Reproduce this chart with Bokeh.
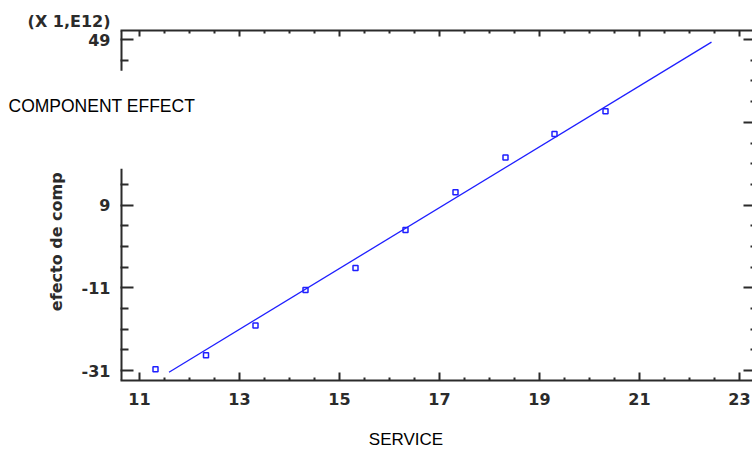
from bokeh.plotting import figure
from bokeh.models import (LinearAxis, FixedTicker, Range1d, Label, CustomJSTickFormatter)
from bokeh.embed import file_html
from bokeh.resources import INLINE

# ---- data ----
service = [11.32, 12.33, 13.32, 14.32, 15.32, 16.32, 17.32, 18.32, 19.30, 20.32]
effect = [-30.7, -27.3, -20.1, -11.5, -6.2, 3.0, 12.1, 20.5, 26.2, 31.7]
fit_x = [11.59, 22.44]
fit_y = [-31.4, 48.4]
x_ticks = [11, 13, 15, 17, 19, 21, 23]
y_ticks = [-31, -11, 9, 29, 49]
x_minor = [10.5, 11.5, 12.0, 12.5, 13.5, 14.0, 14.5, 15.5, 16.0, 16.5, 17.5, 18.0, 18.5,
           19.5, 20.0, 20.5, 21.5, 22.0, 22.5, 23.5]
y_minor = [-36, -26, -21, -16, -6, -1, 4, 14, 19, 24, 34, 39, 44, 54]
# left-axis ticks that are not hidden by the "COMPONENT EFFECT" overlay
left_ticks = [-31, -11, 9, 49]
left_minor = [-26, -21, -16, -6, -1, 4, 14, 44]
scale_note = "(X 1,E12)"
y_title = "efecto de comp"
overlay_y = "COMPONENT EFFECT"
overlay_x = "SERVICE"

X0, X1 = 10.62, 23.26
Y0, Y1 = -33.4, 51.2
GAP = (17.8, 41.5)          # part of the left spine hidden by the overlay

AX = "#2b2b2b"
BLUE = "#1f1fff"

p = figure(width=752, height=451, output_backend="svg", toolbar_location=None,
           x_range=Range1d(X0, X1), y_range=Range1d(Y0, Y1),
           x_axis_location=None, y_axis_location=None,
           min_border_left=120, min_border_right=0, min_border_top=30, min_border_bottom=71)
p.outline_line_color = None
p.xgrid.visible = False
p.ygrid.visible = False
p.background_fill_color = "white"
p.border_fill_color = "white"

plain = CustomJSTickFormatter(code="return tick.toString()")
blank = CustomJSTickFormatter(code="return ''")


def make_axis(ticker, tick_in, minor_in, labels=True, standoff=10):
    ax = LinearAxis(ticker=ticker, axis_line_width=2, axis_line_color=AX,
                    major_tick_line_width=2, major_tick_line_color=AX,
                    minor_tick_line_width=2, minor_tick_line_color=AX,
                    major_tick_in=tick_in, major_tick_out=0,
                    minor_tick_in=minor_in, minor_tick_out=0,
                    major_label_standoff=standoff,
                    major_label_text_font="DejaVu Sans",
                    major_label_text_font_style="bold",
                    major_label_text_font_size="16px",
                    major_label_text_color=AX, formatter=plain)
    if not labels:
        ax.formatter = blank
        ax.major_label_standoff = 0
        ax.major_label_text_font_size = "0px"
    return ax


xt = FixedTicker(ticks=x_ticks, minor_ticks=x_minor)
yt = FixedTicker(ticks=y_ticks, minor_ticks=y_minor)
p.add_layout(make_axis(xt, 8, 3, True, 12), "below")

left = make_axis(FixedTicker(ticks=left_ticks, minor_ticks=left_minor), 13, 8, True, 10)
left.axis_line_color = None
left.axis_label = y_title + "\u00a0" * 13
left.axis_label_standoff = 13
left.axis_label_text_font = "DejaVu Sans"
left.axis_label_text_font_style = "bold"
left.axis_label_text_font_size = "16px"
left.axis_label_text_color = AX
p.add_layout(left, "left")

p.add_layout(make_axis(xt, 6, 3, False), "above")
right_axis = make_axis(yt, 9, 2, False)
right_axis.axis_line_color = None
p.add_layout(right_axis, "right")

# left spine, interrupted where the overlay covers it
p.segment(x0=[X0, X0], y0=[Y1, GAP[0]], x1=[X0, X0], y1=[GAP[1], Y0],
          line_color=AX, line_width=4)

p.line(fit_x, fit_y, line_color=BLUE, line_width=1.3)
p.scatter(service, effect, marker="square", size=5, fill_color=None,
          line_color=BLUE, line_width=1.5)

# free texts (placed in side panels so they are not clipped to the frame)
p.add_layout(Label(x=8, y=105, x_units="canvas", y_units="canvas", text=overlay_y,
                   text_align="left", text_baseline="middle",
                   text_font="Liberation Sans", text_font_size="17.5px",
                   text_color="black"), "above")
p.add_layout(Label(x=110, y=21, x_units="canvas", y_units="canvas", text=scale_note,
                   text_align="right", text_baseline="middle",
                   text_font="DejaVu Sans", text_font_style="bold",
                   text_font_size="16px", text_color=AX), "below")
p.add_layout(Label(x=405.5, y=439, x_units="canvas", y_units="canvas", text=overlay_x,
                   text_align="center", text_baseline="middle",
                   text_font="Liberation Sans", text_font_size="17px",
                   text_color="black"), "below")

open("out.html", "w").write(file_html(p, INLINE))
